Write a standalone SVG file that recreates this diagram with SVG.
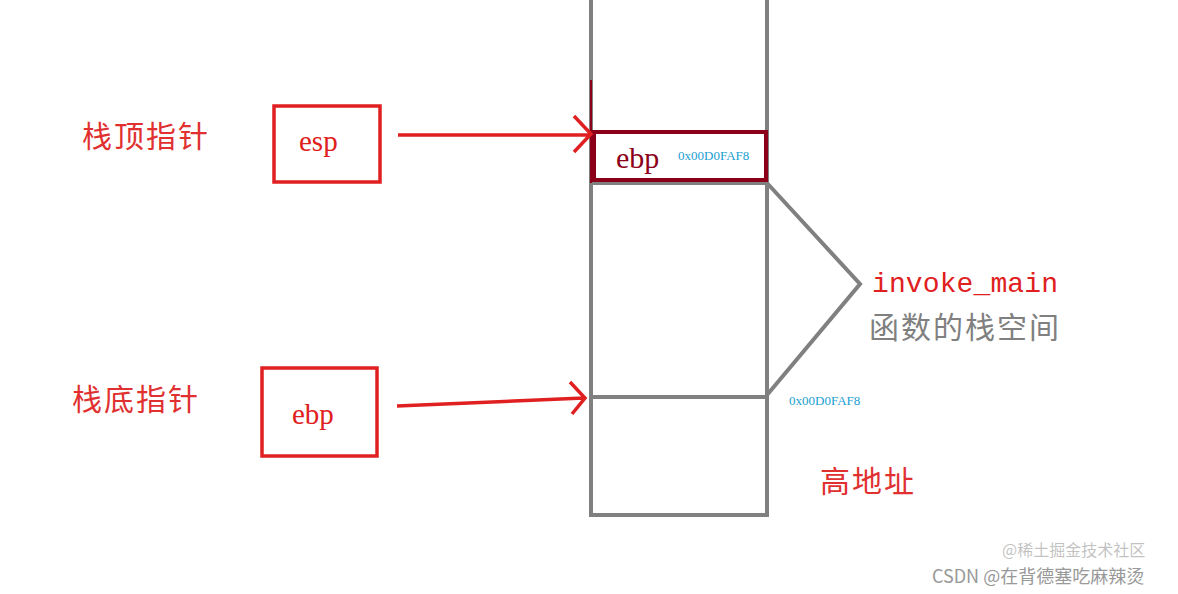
<svg xmlns="http://www.w3.org/2000/svg" width="1178" height="594" viewBox="0 0 1178 594">
<style>
.cn{font-family:"Noto Sans CJK SC","Noto Sans",sans-serif;fill:#e03030;font-size:30px;letter-spacing:2px}
.m{font-family:"Liberation Serif",serif}
.g{stroke:#808080;stroke-width:4;fill:none}
.r{stroke:#e02020;stroke-width:3.5;fill:none}
.hex{font-family:"Liberation Serif",serif;fill:#1aa0d0;font-size:13px}
</style>
<rect width="1178" height="594" fill="#fff"/>
<g id="stack">
<path class="g" d="M591 0V515H767V0M591 183H767M591 397H767"/>
<path d="M591 80V183" stroke="#8b0018" stroke-width="2"/>
</g>
<g id="ebp-slot">
<rect x="594" y="132" width="172" height="48" fill="#fff" stroke="#8b0018" stroke-width="4"/>
<text x="616" y="168" class="m" font-size="30" fill="#8b0018">ebp</text>
<text x="678" y="160" class="hex">0x00D0FAF8</text>
</g>
<g id="brace"><path class="g" d="M767 183L860 284L767 395" stroke-width="3.5"/></g>
<g id="esp-label"><text x="82" y="147" class="cn">栈顶指针</text></g>
<g id="esp"><rect x="274" y="106" width="106" height="76" class="r"/><text x="299" y="151" class="m" font-size="29" fill="#e02020">esp</text></g>
<g id="ebp-label"><text x="72" y="410" class="cn">栈底指针</text></g>
<g id="ebp"><rect x="262" y="368" width="115" height="88" class="r"/><text x="292" y="424" class="m" font-size="29" fill="#e02020">ebp</text></g>
<g id="frame-label">
<text x="872" y="292" font-family="Liberation Mono,monospace" font-size="28" fill="#e02020" textLength="186">invoke_main</text>
<text x="869" y="338" class="cn" style="fill:#808080">函数的栈空间</text>
</g>
<g id="addr"><text x="789" y="405" class="hex">0x00D0FAF8</text></g>
<g id="high"><text x="820" y="492" class="cn">高地址</text></g>
<g id="connectors">
<path class="r" d="M398 135H590M574 116L591 134L574 152"/>
<path class="r" d="M397 406L584 398M570 382L585 398L572 414"/>
</g>
<g id="watermark" font-family="Noto Sans CJK SC,sans-serif" font-size="18" fill="#999">
<text x="932" y="583">CSDN @在背德塞吃麻辣烫</text>
<text x="1002" y="556" font-size="16" fill-opacity="0.6">@稀土掘金技术社区</text>
</g>
</svg>
